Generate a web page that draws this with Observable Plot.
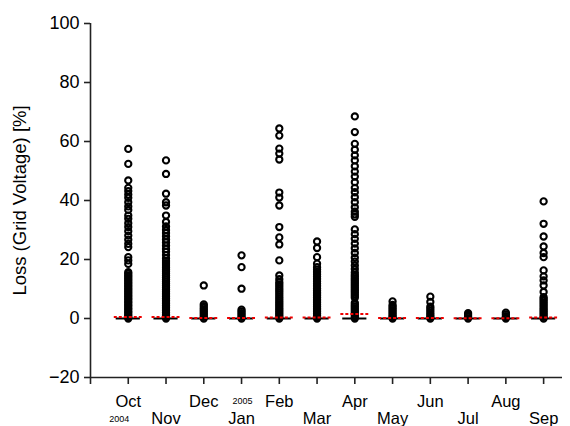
<!DOCTYPE html>
<html><head><meta charset="utf-8">
<script src="https://cdn.jsdelivr.net/npm/d3@7"></script>
<script src="https://cdn.jsdelivr.net/npm/@observablehq/plot@0.6"></script>
<style>body{margin:0;background:#fff}</style>
</head><body><div id="chart"></div>
<script>
const months = ["Oct","Nov","Dec","Jan","Feb","Mar","Apr","May","Jun","Jul","Aug","Sep"];
const yTicks = [-20, 0, 20, 40, 60, 80, 100];
const yLabel = "Loss (Grid Voltage) [%]";
const yearLabels = ["2004", "2005"];

const octLoss = [57.5, 52.4, 46.8, 44.3, 43.2, 42.0, 40.9, 39.4, 38.0, 36.8, 34.9, 33.8, 32.3, 31.0, 29.6, 28.1, 26.7, 25.3, 24.2, 20.8, 19.7, 18.5,
  15.7, 15.2, 14.6, 14.1, 13.5, 13.0, 12.4, 11.9, 11.3, 10.8, 10.2, 9.7, 9.1, 8.6, 8.0, 7.5, 6.9, 6.4, 5.8, 5.3, 4.7, 4.2, 3.6, 3.1, 2.5, 2.0, 1.4, 0.9, 0.4, 0];
const novLoss = [53.6, 49.0, 42.3, 39.4, 38.3, 34.9, 32.7, 31.2, 30.0, 29.0, 27.9, 26.8, 25.8, 24.7, 23.6, 22.6, 21.5, 20.4, 19.5, 18.8, 18.1, 17.4, 16.7, 16.0, 15.3, 14.6, 13.9, 13.2, 12.5, 11.8, 11.1, 10.4,
  9.8, 9.2, 8.6, 8.0, 7.4, 6.8, 6.2, 5.6, 5.0, 4.4, 3.8, 3.2, 2.6, 2.0, 1.4, 0.9, 0.4, 0];
const decLoss = [11.2, 4.8, 4.2, 3.6, 3.0, 2.4, 1.8, 1.2, 0.6, 0];
const janLoss = [21.4, 17.4, 10.1, 3.0, 2.4, 1.8, 1.2, 0.6, 0];
const febLoss = [64.4, 62.0, 57.6, 55.9, 53.9, 42.7, 41.0, 38.3, 31.0, 27.5, 25.1, 19.7, 14.6, 13.3, 12.3, 11.6, 10.9, 10.2, 9.5, 8.8, 8.1, 7.4, 6.7, 6.0, 5.4, 4.8, 4.2, 3.6, 3.0, 2.4, 1.8, 1.2, 0.6, 0];
const marLoss = [26.1, 23.9, 20.8, 18.6, 17.4, 16.6, 15.8, 15.0, 14.2, 13.4, 12.6, 11.8, 11.0, 10.2, 9.5, 8.9, 8.3, 7.7, 7.1, 6.5, 5.9, 5.3, 4.7, 4.1, 3.5, 2.9, 2.3, 1.7, 1.1, 0.5, 0];
const aprLoss = [68.5, 63.2, 59.2, 57.2, 55.3, 53.6, 51.6, 49.8, 48.1, 46.2, 44.3, 42.8, 41.1, 39.4, 37.7, 36.2, 35.3, 34.5,
  30.2, 28.6, 27.0, 25.4, 23.8, 22.2, 20.6, 19.3, 18.0, 16.8, 15.6, 14.8, 14.2, 13.6, 13.0, 12.4, 11.8, 11.2, 10.6, 10.0, 9.4, 8.8, 8.2, 7.6, 7.0,
  5.3, 4.7, 4.1, 3.5, 2.9, 2.3, 1.7, 1.1, 0.5, 0];
const mayLoss = [5.8, 4.6, 4.0, 3.4, 2.8, 2.2, 1.6, 1.0, 0.5, 0];
const junLoss = [7.4, 5.6, 4.0, 3.3, 2.6, 1.9, 1.2, 0.6, 0];
const julLoss = [1.8, 1.2, 0.6, 0];
const augLoss = [2.0, 1.4, 0.8, 0.3, 0];
const sepLoss = [39.7, 32.1, 27.8, 24.4, 22.2, 20.8, 16.3, 14.3, 12.9, 11.2, 9.0, 7.2, 6.6, 6.0, 5.4, 4.8, 4.2, 3.6, 3.0, 2.4, 1.8, 1.2, 0.6, 0];
const medianLoss = [0, 0, 0, 0, 0, 0, 0, 0, 0, 0, 0, 0];
const meanLoss = [0.5, 0.5, 0.2, 0.2, 0.3, 0.3, 1.5, 0.2, 0.2, 0.1, 0.1, 0.3];

const series = [octLoss, novLoss, decLoss, janLoss, febLoss, marLoss, aprLoss, mayLoss, junLoss, julLoss, augLoss, sepLoss];
const points = series.flatMap((vals, i) => vals.map(v => ({m: i, v})));
const boxes = months.map((name, i) => ({m: i, name, med: medianLoss[i], mean: meanLoss[i]}));
const hw = 0.32;
const idx = months.map((_, i) => i);
const upperRow = idx.filter(i => i % 2 === 0);
const lowerRow = idx.filter(i => i % 2 === 1);

const chart = Plot.plot({
  width: 570, height: 426,
  marginLeft: 90, marginRight: 8, marginTop: 23, marginBottom: 49,
  style: {fontFamily: "'Liberation Sans', Arial, sans-serif", fontSize: "18px", color: "#000", background: "#fff", overflow: "visible"},
  x: {type: "linear", domain: [-1, 11.5], axis: null},
  y: {domain: [-20, 100], axis: null},
  marks: [
    Plot.ruleY(boxes, {y: "med", x1: d => d.m - hw, x2: d => d.m + hw, stroke: "#000", strokeWidth: 2}),
    Plot.dot(points, {x: "m", y: "v", r: 3.1, stroke: "#000", strokeWidth: 2.1, fill: "none"}),
    Plot.ruleY(boxes, {y: "mean", x1: d => d.m - hw - 0.05, x2: d => d.m + hw + 0.05, stroke: "#ee0000", strokeWidth: 2, strokeDasharray: "3,2"}),
    Plot.ruleX([-1], {y1: -20, y2: 100, stroke: "#222", strokeWidth: 1.6}),
    Plot.ruleY([-20], {x1: -1, x2: 11.5, stroke: "#222", strokeWidth: 1.6}),
    Plot.axisY(yTicks, {anchor: "left", tickSize: 6, tickPadding: 5, label: null, fontSize: 18, strokeWidth: 1.6, stroke: "#222"}),
    Plot.axisX([-1, ...idx], {anchor: "bottom", tickSize: 7, tickFormat: () => "", label: null, strokeWidth: 1.6, stroke: "#222"}),
    Plot.axisX(upperRow, {anchor: "bottom", tickSize: 0, tickPadding: 18, tickFormat: i => months[i], label: null, fontSize: 16.5, letterSpacing: "0.6px"}),
    Plot.axisX(lowerRow, {anchor: "bottom", tickSize: 0, tickPadding: 35, tickFormat: i => months[i], label: null, fontSize: 16.5, letterSpacing: "0.6px"}),
    Plot.text([yearLabels[0]], {x: 0, y: -20, dx: -9, dy: 42, fontSize: 9}),
    Plot.text([yearLabels[1]], {x: 3, y: -20, dx: 1, dy: 24, fontSize: 9}),
    Plot.text([yLabel], {frameAnchor: "left", textAnchor: "middle", rotate: -90, dx: -70, fontSize: 18.5})
  ]
});
document.getElementById("chart").append(chart);
</script>
</body></html>
